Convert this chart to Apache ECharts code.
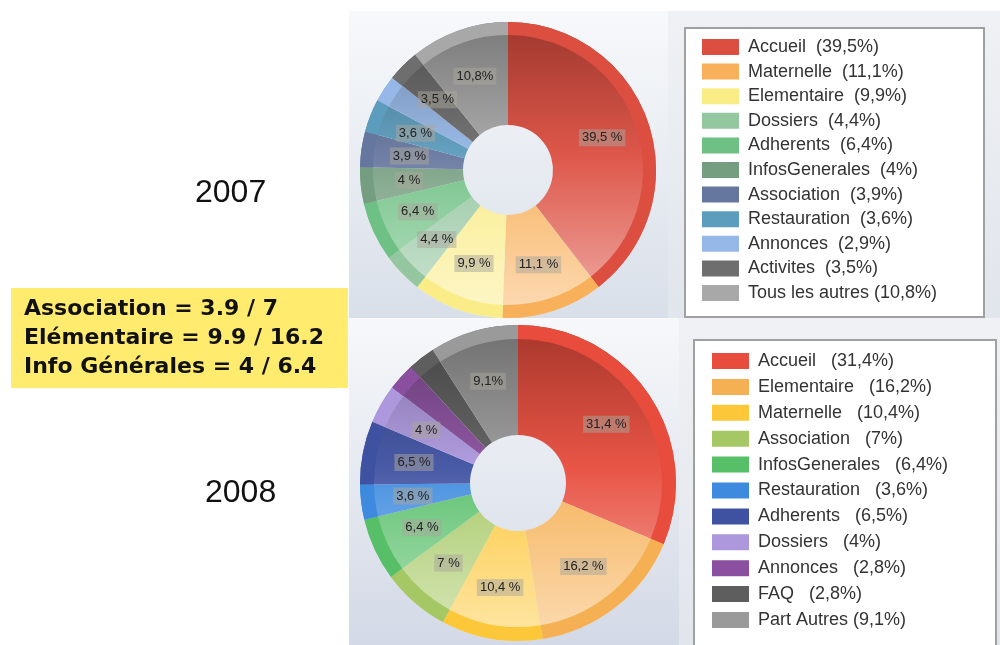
<!DOCTYPE html>
<html><head><meta charset="utf-8">
<script src="https://cdn.jsdelivr.net/npm/echarts@6/dist/echarts.min.js"></script>
<style>html,body{margin:0;padding:0;background:#fff}#c{width:1000px;height:645px}</style>
</head><body><div id="c"></div>
<script>
// ---- data ----
const names2007 = ['Accueil','Maternelle','Elementaire','Dossiers','Adherents','InfosGenerales','Association','Restauration','Annonces','Activites','Tous les autres'];
const values2007 = [39.5, 11.1, 9.9, 4.4, 6.4, 4, 3.9, 3.6, 2.9, 3.5, 10.8];
const names2008 = ['Accueil','Elementaire','Maternelle','Association','InfosGenerales','Restauration','Adherents','Dossiers','Annonces','FAQ','Part Autres'];
const values2008 = [31.4, 16.2, 10.4, 7, 6.4, 3.6, 6.5, 4, 2.8, 2.8, 9.1];
const yearLabels = ['2007', '2008'];
const noteLines = ['Association = 3.9 / 7', 'Elémentaire = 9.9 / 16.2', 'Info Générales = 4 / 6.4'];

// ---- styles ----
const colors2007 = ['#dc4e40','#f8b05a','#faec86','#94c6a0','#6fc084','#759e80','#66779f','#5c9cbd','#96b8e8','#6e6e6e','#a8a8a8'];
const colors2008 = ['#e74c3c','#f5b053','#fdc73a','#a5c864','#58bf69','#3d8ade','#3f51a1','#ad98de','#8a4f9e','#5e5e5e','#9a9a9a'];

function parse(h){h=h.replace('#','');return [0,2,4].map(i=>parseInt(h.substr(i,2),16));}
function mix(hex, target, t){const a=parse(hex), b=parse(target);return 'rgb('+a.map((v,i)=>Math.round(v+(b[i]-v)*t)).join(',')+')';}
function grad(c, top, bottom){
  return new echarts.graphic.LinearGradient(0, top, 0, bottom, [
    {offset:0, color: mix(c,'#000000',0.28)},
    {offset:0.45, color: mix(c,'#ffffff',0.05)},
    {offset:1, color: mix(c,'#ffffff',0.55)}
  ], true);
}
const fmt = v => String(v).replace('.', ',');

function pieSeries(names, values, colors, center, r0, r1, band){
  const last = names.length - 1;
  const top = center[1]-r1, bottom = center[1]+r1;
  return [{
    type:'pie', center:center, radius:[r0, r1], startAngle:90, clockwise:true,
    animation:false, silent:true, z:2,
    label:{show:true, position:'inside', fontFamily:'Liberation Sans', fontSize:13, color:'#222',
      backgroundColor:'rgba(170,165,155,0.5)', padding:[2,3],
      formatter: p => (p.dataIndex === last ? fmt(p.value)+'%' : fmt(p.value)+' %')},
    labelLine:{show:false},
    data: names.map((n,i)=>({name:n, value:values[i], label:{show: values[i] >= 3},
      itemStyle:{color:grad(colors[i], top, bottom)}}))
  },{
    type:'pie', center:center, radius:[r1-band, r1], startAngle:90, clockwise:true,
    animation:false, silent:true, z:3,
    label:{show:false}, labelLine:{show:false},
    data: names.map((n,i)=>({name:n, value:values[i], itemStyle:{color:colors[i]}}))
  }];
}

function legendOf(names, values, colors, left, top, gap, sep){
  const last = names.length - 1;
  const map = {}; names.forEach((n,i)=>map[n]=i);
  return {
    orient:'vertical', left:left, top:top, itemWidth:37, itemHeight:16, itemGap:gap,
    icon:'rect', selectedMode:false, padding:0,
    itemStyle:{borderWidth:0},
    textStyle:{fontFamily:'Liberation Sans', fontSize:18, color:'#333', padding:[0,0,0,4]},
    data: names.map((n,i)=>({name:n, itemStyle:{color:colors[i]}})),
    formatter: n => { const i = map[n]; return n + (i===last?' ':sep) + '(' + fmt(values[i]) + '%)'; }
  };
}

function vgrad(y0, y1, c0, c1){
  return new echarts.graphic.LinearGradient(0, y0, 0, y1, [{offset:0,color:c0},{offset:1,color:c1}], true);
}

const chart = echarts.init(document.getElementById('c'));
chart.setOption({
  animation:false,
  graphic:[
    {type:'rect', shape:{x:349,y:11,width:319,height:307}, style:{fill:vgrad(11,318,'#f7f9fb','#d9dfe9')}, z:-10},
    {type:'rect', shape:{x:668,y:11,width:332,height:307}, style:{fill:vgrad(11,318,'#eff1f4','#e1e5ec')}, z:-10},
    {type:'rect', shape:{x:349,y:318,width:330,height:327}, style:{fill:vgrad(318,645,'#f6f8fa','#d3d9e6')}, z:-10},
    {type:'rect', shape:{x:679,y:318,width:321,height:327}, style:{fill:vgrad(318,645,'#f0f1f4','#e1e5ec')}, z:-10},
    {type:'rect', shape:{x:685,y:28,width:299,height:289}, style:{fill:'#ffffff', stroke:'#a0a0a0', lineWidth:2}, z:-5},
    {type:'rect', shape:{x:694,y:340,width:302,height:320}, style:{fill:'#ffffff', stroke:'#a0a0a0', lineWidth:2}, z:-5},
    {type:'rect', shape:{x:11,y:288,width:337,height:100}, style:{fill:'#ffec6e'}, z:-5},
    {type:'text', style:{text:yearLabels[0], x:195, y:193, font:'32px "Liberation Sans"', fill:'#111', verticalAlign:'middle'}},
    {type:'text', style:{text:yearLabels[1], x:205, y:493, font:'32px "Liberation Sans"', fill:'#111', verticalAlign:'middle'}},
    {type:'text', style:{text:noteLines[0], x:24, y:309, font:'bold 22px "DejaVu Sans"', fill:'#111', verticalAlign:'middle'}},
    {type:'text', style:{text:noteLines[1], x:24, y:338, font:'bold 22px "DejaVu Sans"', fill:'#111', verticalAlign:'middle'}},
    {type:'text', style:{text:noteLines[2], x:24, y:367, font:'bold 22px "DejaVu Sans"', fill:'#111', verticalAlign:'middle'}}
  ],
  legend:[
    legendOf(names2007, values2007, colors2007, 702, 38, 6.6, '  '),
    legendOf(names2008, values2008, colors2008, 712, 352, 7.9, '   ')
  ],
  series:[
    ...pieSeries(names2007, values2007, colors2007, [508,170], 45, 148, 13),
    ...pieSeries(names2008, values2008, colors2008, [518,483], 48, 158, 14)
  ]
});
</script></body></html>
